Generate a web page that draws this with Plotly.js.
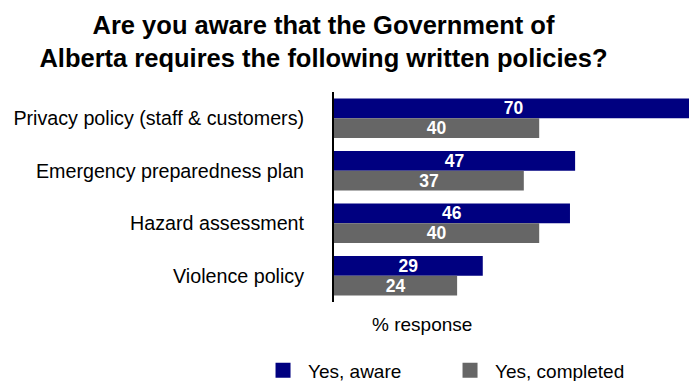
<!DOCTYPE html>
<html>
<head>
<meta charset="utf-8">
<script src="https://cdn.plot.ly/plotly-3.0.1.min.js"></script>
<style>html,body{margin:0;padding:0;background:#fff;}#chart{width:689px;height:381px;}</style>
</head>
<body>
<div id="chart"></div>
<script>
const categories = ["Privacy policy (staff & customers)", "Emergency preparedness plan", "Hazard assessment", "Violence policy"];
const seriesNames = ["Yes, aware", "Yes, completed"];
const awareValues = [70, 47, 46, 29];
const completedValues = [40, 37, 40, 24];
const colors = ["#000080", "#666666"];
const FONT = "Liberation Sans, Arial, sans-serif";

const barCommon = {
  type: "bar", orientation: "h", y: categories,
  textposition: "inside", insidetextanchor: "middle", constraintext: "none", textangle: 0,
  textfont: {family: FONT, size: 17.5, color: "#ffffff", weight: "bold"},
  showlegend: false, hoverinfo: "x+y", cliponaxis: true
};
const traces = [
  Object.assign({}, barCommon, {name: seriesNames[0], x: awareValues, text: awareValues.map(String), marker: {color: colors[0]}}),
  Object.assign({}, barCommon, {name: seriesNames[1], x: completedValues, text: completedValues.map(String), marker: {color: colors[1]}}),
  {type: "scatter", mode: "markers", x: [null], y: [null], name: seriesNames[0], marker: {symbol: "square", size: 15, color: colors[0]}, showlegend: true, hoverinfo: "skip"},
  {type: "scatter", mode: "markers", x: [null], y: [null], name: seriesNames[1], marker: {symbol: "square", size: 15, color: colors[1]}, showlegend: true, hoverinfo: "skip"}
];

const layout = {
  width: 689, height: 381,
  margin: {l: 334, r: 0, t: 91.5, b: 78.7, pad: 0, autoexpand: false},
  paper_bgcolor: "#ffffff", plot_bgcolor: "#ffffff",
  font: {family: FONT, color: "#000000"},
  title: {
    text: "<b>Are you aware that the Government of<br>Alberta requires the following written policies?</b>",
    font: {family: FONT, size: 25.5, color: "#000000"},
    xref: "container", x: 0.4695, xanchor: "center",
    yref: "container", y: 0.912, yanchor: "top"
  },
  barmode: "group", bargap: 0.252, bargroupgap: 0,
  xaxis: {range: [0, 69.2], showgrid: false, zeroline: false, showticklabels: false, showline: false, ticks: "", fixedrange: true},
  yaxis: {
    autorange: "reversed", showgrid: false, zeroline: false,
    showline: true, linecolor: "#000000", linewidth: 2,
    ticks: "", ticklabelstandoff: 24,
    tickfont: {family: FONT, size: 19.7, color: "#000000"}
  },
  showlegend: true,
  legend: {
    orientation: "h", x: -0.214, xanchor: "left", y: -0.326, yanchor: "middle",
    font: {family: FONT, size: 19, color: "#000000"},
    itemwidth: 40, entrywidth: 132, entrywidthmode: "pixels",
    bgcolor: "rgba(0,0,0,0)"
  },
  annotations: [{
    text: "% response", xref: "paper", yref: "paper", x: 0.248, y: -0.108,
    xanchor: "center", yanchor: "middle", showarrow: false,
    font: {family: FONT, size: 19, color: "#000000"}
  }]
};

Plotly.newPlot("chart", traces, layout, {displayModeBar: false, staticPlot: true});
</script>
</body>
</html>
